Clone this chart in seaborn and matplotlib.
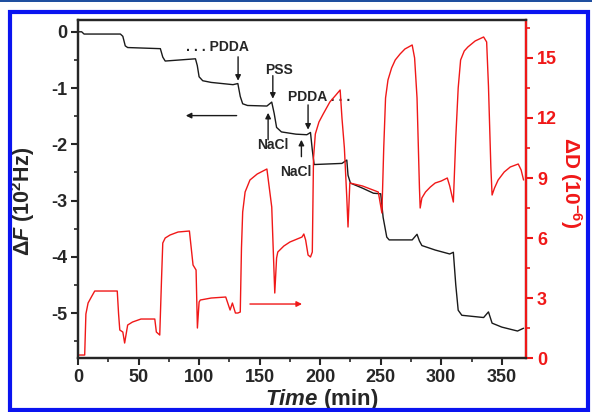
import numpy as np
import pandas as pd
import matplotlib
matplotlib.use("Agg")
import matplotlib.pyplot as plt
import seaborn as sns
from matplotlib.patches import Rectangle
from matplotlib.ticker import MultipleLocator

# Frequency shift (black, left axis), 10^2 Hz
time_f = [0, 3, 5, 35, 37, 39, 41, 68, 70, 72, 97, 98.5, 100, 103, 110, 128,
          132, 134, 136, 140, 156, 160, 162, 164, 168, 180, 189, 192, 193.5,
          195, 218, 222, 223, 225, 235, 244, 250, 252, 255, 257, 276, 280,
          282, 284, 295, 307, 310, 312, 314, 317, 335, 339, 342, 350, 363,
          368]
delta_f = [0.0, 0.0, -0.04, -0.04, -0.08, -0.25, -0.28, -0.30, -0.45, -0.52,
           -0.48, -0.60, -0.80, -0.87, -0.90, -0.94, -0.92, -1.15, -1.28,
           -1.31, -1.32, -1.25, -1.45, -1.70, -1.78, -1.82, -1.83, -1.79,
           -2.10, -2.36, -2.34, -2.28, -2.55, -2.69, -2.78, -2.87, -2.88,
           -3.30, -3.65, -3.70, -3.70, -3.60, -3.72, -3.80, -3.88, -3.95,
           -3.92, -4.50, -4.95, -5.04, -5.08, -4.98, -5.18, -5.25, -5.32,
           -5.27]

# Dissipation shift (red, right axis), 10^-6
time_d = [0, 5.5, 6.5, 8.3, 11, 13.8, 32.4, 33.5, 34.5, 37, 38.5, 41, 45, 52,
          63.4, 64.7, 67.5, 69, 70, 72, 76, 82.6, 92, 93.5, 95, 97.5, 98.6,
          100, 101, 110, 122, 125.6, 127.5, 130, 132, 134, 135, 136, 138,
          142, 148, 156, 160, 162.5, 164, 165, 170, 175, 185, 186.5, 188,
          190, 192, 193.5, 194.5, 196, 199, 202.5, 208, 213, 216.5, 218,
          220, 222, 223, 224.5, 235, 248, 251, 252.5, 254, 256, 259, 262,
          266, 270, 276, 278, 280, 282, 282.6, 284, 287, 291, 295, 300, 305,
          307, 310, 312, 314, 316, 319, 322, 328, 335, 337.5, 339, 341, 342,
          344, 347, 352, 357, 363.6, 366, 368]
delta_d = [0.15, 0.15, 2.2, 2.75, 3.05, 3.35, 3.35, 2.2, 1.4, 1.3, 0.75, 1.65,
           1.8, 1.95, 1.95, 1.3, 1.15, 4.0, 5.75, 6.0, 6.15, 6.3, 6.35, 5.5,
           4.65, 4.4, 1.5, 2.8, 2.9, 3.0, 3.05, 2.4, 2.75, 2.25, 2.25, 2.3,
           5.5, 7.3, 8.3, 8.9, 9.2, 9.45, 7.55, 3.25, 5.0, 5.3, 5.6, 5.8,
           6.05, 6.2, 5.9, 5.15, 5.05, 5.3, 10.0, 11.2, 11.8, 12.2, 12.8,
           13.15, 13.4, 12.0, 10.5, 8.0, 6.55, 8.75, 8.6, 8.3, 7.25, 10.5,
           13.0, 13.9, 14.5, 14.9, 15.2, 15.45, 15.65, 15.0, 13.0, 8.5, 7.5,
           8.0, 8.3, 8.55, 8.75, 8.85, 9.0, 8.6, 7.8, 11.0, 13.5, 14.9,
           15.35, 15.55, 15.85, 16.05, 15.8, 13.6, 9.5, 8.15, 8.5, 8.9, 9.3,
           9.55, 9.7, 9.4, 8.9]

x_ticks = [0, 50, 100, 150, 200, 250, 300, 350]
f_ticks = [0, -1, -2, -3, -4, -5]
d_ticks = [0, 3, 6, 9, 12, 15]

df_f = pd.DataFrame({'Time': time_f, 'dF': delta_f})
df_d = pd.DataFrame({'Time': time_d, 'dD': delta_d})

sns.set_style("ticks")
plt.rcParams['font.family'] = ['Liberation Sans', 'DejaVu Sans']
plt.rcParams['font.weight'] = 'bold'
plt.rcParams['axes.unicode_minus'] = False
plt.rcParams['mathtext.fontset'] = 'custom'
plt.rcParams['mathtext.rm'] = 'Liberation Sans:bold'
plt.rcParams['mathtext.bf'] = 'Liberation Sans:bold'
plt.rcParams['mathtext.it'] = 'Liberation Sans:italic:bold'

red = '#f01818'

fig = plt.figure(figsize=(5.92, 4.12), dpi=100)
ax1 = fig.add_axes([0.1318, 0.131, 0.7567, 0.8205])
ax2 = ax1.twinx()

sns.lineplot(data=df_f, x='Time', y='dF', ax=ax1, color='#1a1a1a',
             linewidth=1.0, estimator=None, sort=False)
sns.lineplot(data=df_d, x='Time', y='dD', ax=ax2, color=red,
             linewidth=1.0, estimator=None, sort=False)

ax1.set_xlim(0, 370)
ax1.set_ylim(-5.8, 0.21)
ax2.set_ylim(0, 16.9)

ax1.set_xticks(x_ticks)
ax1.set_yticks(f_ticks)
ax2.set_yticks(d_ticks)
ax1.xaxis.set_minor_locator(MultipleLocator(25))
ax1.yaxis.set_minor_locator(MultipleLocator(0.5))
ax2.yaxis.set_minor_locator(MultipleLocator(1.5))

for a in (ax1, ax2):
    for s in a.spines.values():
        s.set_linewidth(1.6)
        s.set_visible(True)
ax2.spines['right'].set_color(red)

ax1.tick_params(axis='both', which='major', direction='out', length=5,
                width=1.5, labelsize=13, pad=3)
ax1.tick_params(axis='both', which='minor', direction='out', length=3,
                width=1.2)
ax1.tick_params(top=False, which='both')
ax2.tick_params(axis='y', which='major', direction='out', length=5,
                width=1.5, labelsize=13, colors=red, pad=3)
ax2.tick_params(axis='y', which='minor', direction='out', length=3,
                width=1.2, colors=red)
for lab in ax1.get_xticklabels() + ax1.get_yticklabels() + ax2.get_yticklabels():
    lab.set_fontweight('bold')

ax1.set_xlabel(r'$Time$ (min)', fontsize=16, fontweight='bold')
ax1.xaxis.set_label_coords(0.543, -0.087)
ax1.set_ylabel(r'$\Delta F$ (10$^2$Hz)', fontsize=15.5, fontweight='bold')
ax1.yaxis.set_label_coords(-0.092, 0.464)
ax2.set_ylabel(r'$\Delta$D (10$^{-6}$)', fontsize=15, fontweight='bold',
               color=red, rotation=270, va='bottom')
ax2.yaxis.set_label_coords(1.071, 0.518)

# annotations on the frequency curve
arrow = dict(arrowstyle='-|>', color='#1a1a1a', lw=1.0, mutation_scale=8,
             shrinkA=0, shrinkB=0)
ax1.text(115, -0.27, '. . . PDDA', fontsize=10, fontweight='bold',
         ha='center', va='center')
ax1.annotate('', xy=(132.2, -0.87), xytext=(132.2, -0.445), arrowprops=arrow)
ax1.text(166, -0.68, 'PSS', fontsize=10, fontweight='bold',
         ha='center', va='center')
ax1.annotate('', xy=(160.9, -1.19), xytext=(160.9, -0.78), arrowprops=arrow)
ax1.text(161, -2.01, 'NaCl', fontsize=10, fontweight='bold',
         ha='center', va='center')
ax1.annotate('', xy=(157, -1.44), xytext=(157, -1.92), arrowprops=arrow)
ax1.text(173.5, -1.16, 'PDDA . . .', fontsize=10, fontweight='bold',
         ha='left', va='center')
ax1.annotate('', xy=(190, -1.74), xytext=(190, -1.30), arrowprops=arrow)
ax1.text(180, -2.49, 'NaCl', fontsize=10, fontweight='bold',
         ha='center', va='center')
ax1.annotate('', xy=(184.5, -1.92), xytext=(184.5, -2.22), arrowprops=arrow)
ax1.annotate('', xy=(89, -1.49), xytext=(131, -1.49), arrowprops=arrow)
ax2.annotate('', xy=(185, 2.7), xytext=(142, 2.7),
             arrowprops=dict(arrowstyle='-|>', color=red, lw=1.0,
                             mutation_scale=8, shrinkA=0, shrinkB=0))

# blue frame around the figure
fig.patches.append(Rectangle((0.0169, 0.006), 0.977, 0.965, fill=False,
                             edgecolor='#0a14f0', linewidth=3.0,
                             transform=fig.transFigure, figure=fig))
fig.patches.append(Rectangle((0, 0.994), 1, 0.006, facecolor='#1f4fa0',
                             edgecolor='none', transform=fig.transFigure,
                             figure=fig))

fig.savefig('out.png', dpi=100)
